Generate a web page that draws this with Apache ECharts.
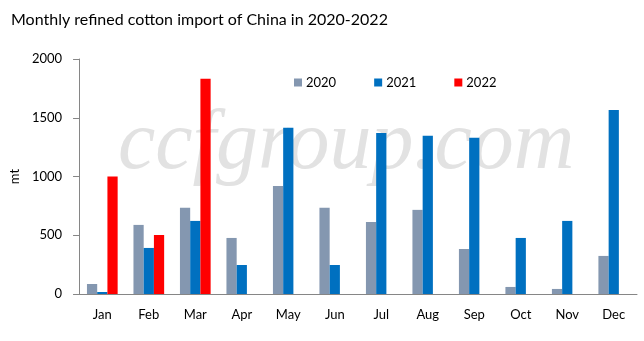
<!DOCTYPE html>
<html>
<head>
<meta charset="utf-8">
<script src="https://cdn.jsdelivr.net/npm/echarts@6/dist/echarts.min.js"></script>
<style>html,body{margin:0;padding:0;background:#fff;}#c{width:644px;height:341px;}</style>
</head>
<body>
<div id="c"></div>
<script>
var months = ['Jan','Feb','Mar','Apr','May','Jun','Jul','Aug','Sep','Oct','Nov','Dec'];
var s2020 = [85, 588, 733, 477, 920, 733, 613, 716, 383, 60, 43, 324];
var s2021 = [17, 392, 622, 247, 1414, 247, 1371, 1346, 1329, 477, 622, 1567];
var s2022 = [1000, 502, 1831, null, null, null, null, null, null, null, null, null];
var yTicks = [0, 500, 1000, 1500, 2000];

var chart = echarts.init(document.getElementById('c'), null, {renderer: 'canvas'});
var font = 'Lato, "Open Sans", sans-serif';
chart.setOption({
  animation: false,
  backgroundColor: '#ffffff',
  title: {
    text: 'Monthly refined cotton import of China in 2020-2022',
    left: 6, top: 7,
    textStyle: {fontFamily: font, fontSize: 16, fontWeight: 'normal', color: '#000'}
  },
  graphic: [{
    type: 'text', left: 118, top: 104, z: -10, silent: true,
    style: {text: 'ccfgroup.com', fill: '#e2e2e2', font: 'italic 84px "Liberation Serif", serif'}
  }],
  legend: {
    data: ['2020','2021','2022'],
    left: 289, top: 71,
    itemWidth: 8, itemHeight: 8, itemGap: 38,
    icon: 'rect',
    textStyle: {fontFamily: font, fontSize: 13, color: '#000', padding: [0,0,0,-1]}
  },
  grid: {left: 75, right: 7, top: 59, bottom: 47, containLabel: false},
  xAxis: {
    type: 'category', data: months,
    axisLine: {lineStyle: {color: '#868686', width: 1}},
    axisTick: {show: false},
    axisLabel: {fontFamily: font, fontSize: 13, color: '#000', margin: 14}
  },
  yAxis: {
    type: 'value', min: yTicks[0], max: yTicks[yTicks.length-1], interval: 500,
    name: 'mt', nameLocation: 'middle', nameGap: 48, nameRotate: 90,
    nameTextStyle: {fontFamily: font, fontSize: 13, color: '#000'},
    axisLine: {show: true, lineStyle: {color: '#868686'}},
    axisTick: {show: true, length: 6, lineStyle: {color: '#868686'}},
    splitLine: {show: false},
    axisLabel: {fontFamily: font, fontSize: 13, color: '#000', margin: 17,
      formatter: function (v) { return String(v); }}
  },
  series: [
    {name: '2020', type: 'bar', data: s2020, itemStyle: {color: '#8497B0'}, barGap: '0%', barCategoryGap: '34%'},
    {name: '2021', type: 'bar', data: s2021, itemStyle: {color: '#0070C0'}},
    {name: '2022', type: 'bar', data: s2022, itemStyle: {color: '#FF0000'}}
  ]
});
</script>
</body>
</html>
